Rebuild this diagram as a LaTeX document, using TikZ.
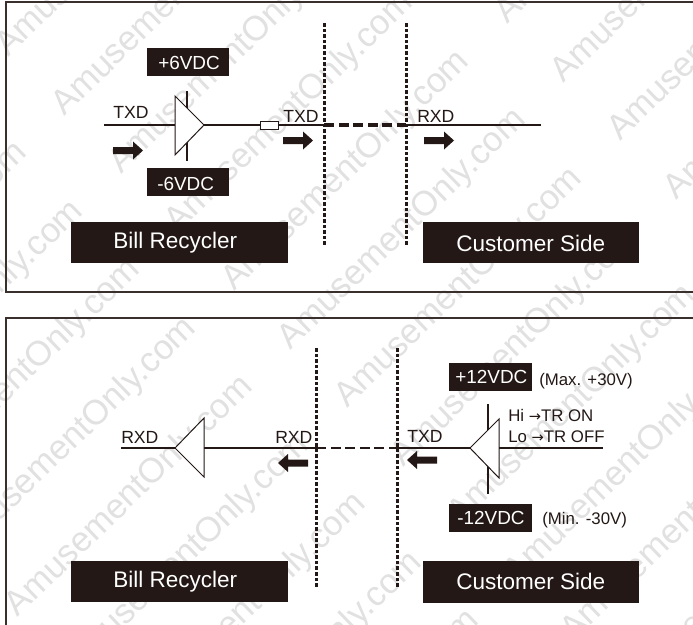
\documentclass[tikz,border=0pt]{standalone}
\usepackage{fontspec}
\setmainfont{Liberation Sans}
\newfontfamily\arrowfont{DejaVu Sans}
\definecolor{ink}{HTML}{231815}
\definecolor{wmark}{HTML}{E1E1E1}
\tikzset{
  wire/.style={draw=ink,line width=0.8pt},
  frameline/.style={draw=ink!90!white,line width=1pt},
  divider/.style={fill=ink},
  busdash/.style={fill=ink},
  gate/.style={draw=ink,line width=0.75pt,fill=white,line join=miter},
  blk/.style={fill=ink},
  txt/.style={anchor=base west,inner sep=0pt,text=ink,font=\fontsize{13.2pt}{15pt}\selectfont},
  small/.style={anchor=base west,inner sep=0pt,text=ink,font=\fontsize{12.6pt}{15pt}\selectfont},
  wht/.style={anchor=base west,inner sep=0pt,text=white,font=\fontsize{14.2pt}{16pt}\selectfont},
  big/.style={anchor=base west,inner sep=0pt,text=white,font=\fontsize{16.9pt}{19pt}\selectfont},
  wm/.style={anchor=base west,inner sep=0pt,rotate=44,text=wmark,font=\fontsize{26pt}{28pt}\selectfont},
}
% vertical dotted divider: x, y from, y to (drawn as small filled dashes)
\newcommand{\vdiv}[3]{\pgfmathsetmacro{\ysec}{#2+5.6}\foreach \yy in {#2,\ysec,...,#3}{\fill[divider] (#1-1.5,\yy) rectangle (#1+1.5,\yy+3.6);}}
% horizontal bus dash: x from, x to, y, half width
\newcommand{\hbus}[4]{\pgfmathsetmacro{\xsec}{#1+14.5}\foreach \xx in {#1,\xsec,...,#2}{\fill[busdash] (\xx,#3-#4) rectangle ({min(\xx+10,#2)},#3+#4);}}
\newcommand{\fatright}[3]{\fill[ink] (#1,#3-3.5) -- (#1+20,#3-3.5) -- (#1+20,#3-9) -- (#2,#3) -- (#1+20,#3+9) -- (#1+20,#3+3.5) -- (#1,#3+3.5) -- cycle;}
\newcommand{\fatleft}[3]{\fill[ink] (#2,#3-3.5) -- (#1+10,#3-3.5) -- (#1+10,#3-9) -- (#1,#3) -- (#1+10,#3+9) -- (#1+10,#3+3.5) -- (#2,#3+3.5) -- cycle;}
\begin{document}
\begin{tikzpicture}[x=0.75pt,y=-0.75pt]
\useasboundingbox (0,0) rectangle (693,625);
\fill[white] (0,0) rectangle (693,625);
% watermark
\begin{scope}
\clip (0,0) rectangle (693,625);
\foreach \i in {-6,...,14}{
  \foreach \j in {-3,...,3}{
    \node[wm,name=wm\i x\j] at ({8+56.5*\i+273*\j},{58+58.5*\i-267*\j}) {AmusementOnly.com};
  }
}
\end{scope}
% frames
\coordinate (fa1) at (693,2); \coordinate (fa2) at (6,2); \coordinate (fa3) at (6,292); \coordinate (fa4) at (693,292);
\coordinate (fb1) at (693,318); \coordinate (fb2) at (6,318); \coordinate (fb3) at (6,625);
\draw[frameline] (fa1) -- (fa2) -- (fa3) -- (fa4);
\draw[frameline] (fb1) -- (fb2) -- (fb3);
% ---- top panel
\coordinate (ain) at (104,125);
\coordinate (aA) at (175,96); \coordinate (aB) at (175,155); \coordinate (aT) at (204,125);
\coordinate (av1) at (187,91); \coordinate (av2) at (187,161);
\coordinate (ad1) at (324,125); \coordinate (ad2) at (406,125); \coordinate (aout) at (541,125);
\draw[wire] (ain) -- (aT);
\draw[wire] (av1) -- (av2);
\draw[gate] (aA) -- (aT) -- (aB) -- cycle;
\draw[wire] (aT) -- (ad1);
\draw[gate] (260,121) rectangle (278,129);
\vdiv{324}{23}{244}
\vdiv{406}{23}{242}
\hbus{324}{406}{125}{1.6}
\draw[wire] (ad2) -- (aout);
\fill[blk] (147,48) rectangle (229,76);
\fill[blk] (147,168) rectangle (229,196);
\fill[blk] (71,222) rectangle (288,263);
\fill[blk] (423,222) rectangle (639,263);
\node[wht,name=tp6] at (158,69) {+6VDC};
\node[wht,name=tm6] at (157,190) {-6VDC};
\node[big,name=tbr] at (113,248) {Bill Recycler};
\node[big,name=tcs] at (456,251) {Customer Side};
\node[txt,name=ttx1] at (113,118) {TXD};
\node[txt,name=ttx2] at (283,122) {TXD};
\node[txt,name=trx1] at (417,122) {RXD};
\fatright{113}{143}{150.5}
\fatright{283}{313}{140.5}
\fatright{424}{454}{140.5}
% ---- bottom panel
\coordinate (bin) at (121,448);
\coordinate (bT) at (175,448); \coordinate (bA) at (204,418); \coordinate (bB) at (204,477);
\coordinate (bd1) at (316,448); \coordinate (bd2) at (397,448);
\coordinate (cT) at (470,448); \coordinate (cA) at (499,419); \coordinate (cB) at (499,478);
\coordinate (cv1) at (488,404); \coordinate (cv2) at (488,494);
\coordinate (cout) at (603,448);
\draw[wire] (bin) -- (bT);
\draw[gate] (bT) -- (bA) -- (bB) -- cycle;
\draw[wire] (bA |- bT) -- (bd1);
\draw[wire] (bd2) -- (cT);
\draw[wire] (cv1) -- (cv2);
\draw[gate] (cT) -- (cA) -- (cB) -- cycle;
\draw[wire] (cA |- cT) -- (cout);
\vdiv{316}{348}{587}
\vdiv{397}{348}{587}
\hbus{316}{397}{448}{1.1}
\fill[blk] (449,363) rectangle (532,391);
\fill[blk] (449,504) rectangle (532,532);
\fill[blk] (71,561) rectangle (288,602);
\fill[blk] (423,561) rectangle (639,603);
\node[wht,name=tp12] at (455,383) {+12VDC};
\node[wht,name=tm12] at (457,524) {-12VDC};
\node[small,name=tmax] at (539,385) {(Max. +30V)};
\node[small,name=tmin] at (542,524) {(Min. -30V)};
\node[small,name=thi] at (508,421) {Hi {\arrowfont\fontsize{11pt}{15pt}\selectfont →}TR ON};
\node[small,name=tlo] at (508,442) {Lo {\arrowfont\fontsize{11pt}{15pt}\selectfont →}TR OFF};
\node[big,name=bbr] at (113,587) {Bill Recycler};
\node[big,name=bcs] at (456,589) {Customer Side};
\node[txt,name=brx1] at (121,443) {RXD};
\node[txt,name=brx2] at (275,443) {RXD};
\node[txt,name=btx1] at (407,442) {TXD};
\fatleft{278}{308}{463}
\fatleft{407}{437}{460}
\end{tikzpicture}
\end{document}
